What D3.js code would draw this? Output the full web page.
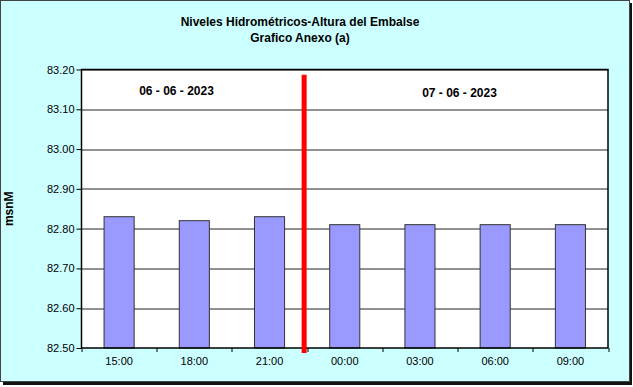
<!DOCTYPE html>
<html>
<head>
<meta charset="utf-8">
<script src="https://cdn.jsdelivr.net/npm/d3@7"></script>
<style>
  body { margin: 0; background: #fff; }
  svg { display: block; font-family: Arial, "Liberation Sans", sans-serif; }
  .axis text { font-size: 11px; fill: #000; }
  .axis path, .axis line { stroke: #000; }
</style>
</head>
<body>
<svg id="chart"></svg>
<script>
// data
const hours = ['15:00', '18:00', '21:00', '00:00', '03:00', '06:00', '09:00'];
const levels = [82.83, 82.82, 82.83, 82.81, 82.81, 82.81, 82.81];
const yTicks = [82.50, 82.60, 82.70, 82.80, 82.90, 83.00, 83.10, 83.20];
const dayLabels = ['06 - 06 - 2023', '07 - 06 - 2023'];
const titleLines = ['Niveles Hidrométricos-Altura del Embalse', 'Grafico Anexo (a)'];

const width = 633, height = 387;
const margin = { top: 69.5, right: 25, bottom: 39, left: 81.5 };
const innerW = width - margin.left - margin.right;
const innerH = height - margin.top - margin.bottom;

const svg = d3.select('#chart').attr('width', width).attr('height', height);

// outer chart area with shadow
svg.append('rect').attr('x', 3).attr('y', 3).attr('width', 629).attr('height', 382).attr('fill', '#111');
svg.append('rect').attr('x', 0.5).attr('y', 0.5).attr('width', 629).attr('height', 381)
    .attr('fill', '#ccffff').attr('stroke', '#444').attr('stroke-width', 1);

const chart = svg.append('g').attr('transform', `translate(${margin.left},${margin.top})`);

const xScale = d3.scaleBand().domain(hours).range([0, innerW]).paddingInner(0.6).paddingOuter(0.3);
const xBand = d3.scaleBand().domain(hours).range([0, innerW]);
const yScale = d3.scaleLinear().domain([82.5, 83.2]).range([innerH, 0]);

chart.append('rect').attr('width', innerW).attr('height', innerH).attr('fill', '#fff');

// gridlines
chart.append('g').selectAll('line').data(yTicks.slice(1)).join('line')
    .attr('x1', 0).attr('x2', innerW)
    .attr('y1', d => Math.round(yScale(d)) + 0.5).attr('y2', d => Math.round(yScale(d)) + 0.5)
    .attr('stroke', '#222').attr('stroke-width', 1);

// bars
chart.append('g').selectAll('rect').data(levels).join('rect')
    .attr('x', (d, i) => xScale(hours[i]))
    .attr('y', d => yScale(d))
    .attr('width', xScale.bandwidth())
    .attr('height', d => innerH - yScale(d))
    .attr('fill', '#9999ff')
    .attr('stroke', '#333').attr('stroke-width', 1);

// plot frame
chart.append('rect').attr('width', innerW).attr('height', innerH)
    .attr('fill', 'none').attr('stroke', '#000').attr('stroke-width', 1.5);

// axes
const yAxis = d3.axisLeft(yScale).tickValues(yTicks).tickFormat(d3.format('.2f')).tickSize(5).tickSizeOuter(0);
chart.append('g').attr('class', 'axis').call(yAxis)
    .call(g => g.select('.domain').remove())
    .selectAll('text').attr('dx', '1');

const xAxis = d3.axisBottom(xBand).tickSize(0).tickPadding(9).tickSizeOuter(0);
chart.append('g').attr('class', 'axis').attr('transform', `translate(0,${innerH})`).call(xAxis)
    .call(g => g.select('.domain').remove());

// ticks at band boundaries
chart.append('g').selectAll('line').data(d3.range(hours.length + 1)).join('line')
    .attr('x1', i => Math.round(i * xBand.step()) + 0.5).attr('x2', i => Math.round(i * xBand.step()) + 0.5)
    .attr('y1', innerH).attr('y2', innerH + 4)
    .attr('stroke', '#000');

// day separator
const sepX = xBand('00:00') - 3;
chart.append('line')
    .attr('x1', sepX).attr('x2', sepX)
    .attr('y1', yScale(83.187)).attr('y2', innerH + 5)
    .attr('stroke', '#ff0000').attr('stroke-width', 5);

// day labels
chart.append('text').attr('x', 95).attr('y', yScale(83.137)).attr('text-anchor', 'middle')
    .attr('font-size', 12).attr('font-weight', 'bold').text(dayLabels[0]);
chart.append('text').attr('x', 378).attr('y', yScale(83.13)).attr('text-anchor', 'middle')
    .attr('font-size', 12).attr('font-weight', 'bold').text(dayLabels[1]);

// title
svg.append('g').selectAll('text').data(titleLines).join('text')
    .attr('x', 300).attr('y', (d, i) => 26 + i * 16)
    .attr('text-anchor', 'middle').attr('font-size', 12).attr('font-weight', 'bold')
    .text(d => d);

// y axis title
svg.append('text')
    .attr('transform', `translate(13,${margin.top + innerH / 2}) rotate(-90)`)
    .attr('text-anchor', 'middle').attr('font-size', 12).attr('font-weight', 'bold')
    .text('msnM');
</script>
</body>
</html>
